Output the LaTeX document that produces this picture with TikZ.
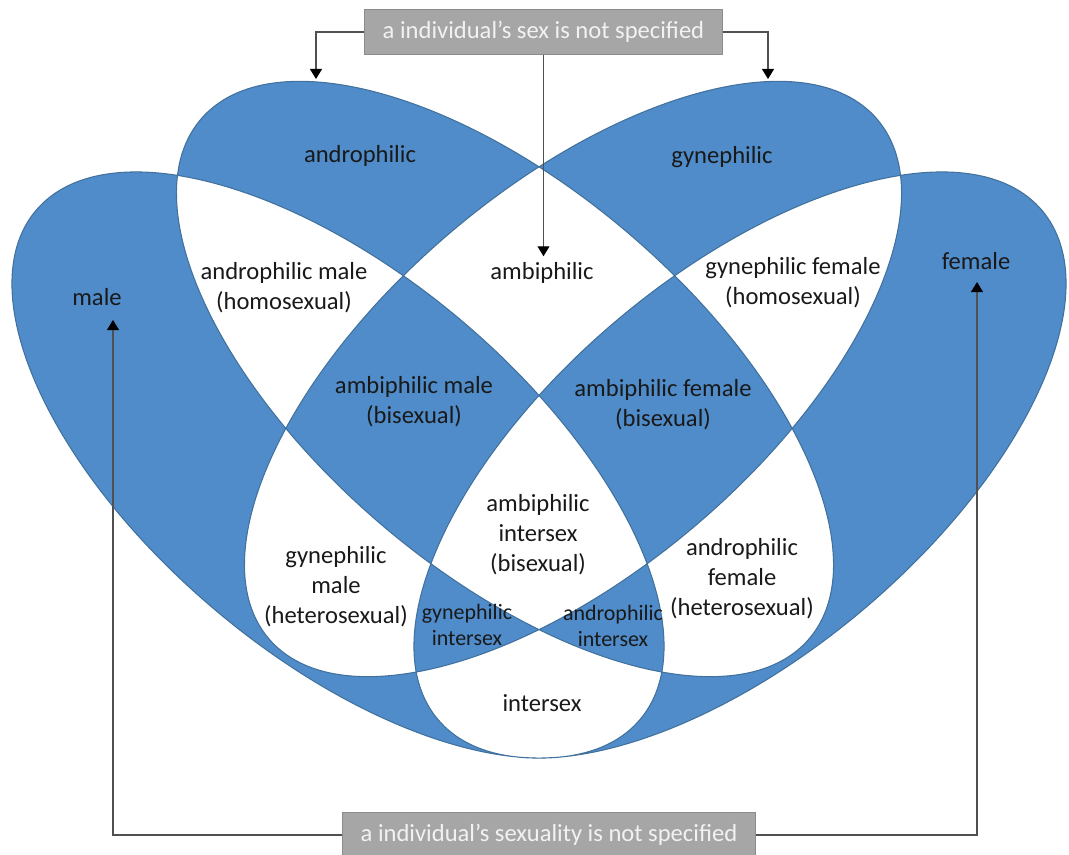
\documentclass[tikz,border=0pt]{standalone}
\usepackage{fontspec}
\setmainfont{Carlito}
\usetikzlibrary{arrows.meta}

\definecolor{vennblue}{RGB}{79,140,201}
\definecolor{vennedge}{RGB}{65,113,156}
\definecolor{boxgray}{RGB}{166,166,166}
\definecolor{boxedge}{RGB}{140,140,140}
\definecolor{linegray}{RGB}{80,80,80}

\begin{document}
\begin{tikzpicture}[x=0.02cm,y=-0.02cm,
    set label/.style={font=\fontsize{14}{17}\selectfont,align=center,text=black!90},
    small label/.style={font=\fontsize{12.5}{14.7}\selectfont,align=center,text=black!90},
    note box/.style={fill=boxgray,draw=boxedge,text=white!95!black,
      font=\fontsize{14}{17}\selectfont,minimum height=0.9cm,inner xsep=0.36cm},
    pointer/.style={draw=linegray,line width=0.7pt,-{Triangle[length=5.7pt,width=6.8pt,color=black]}}]

    \useasboundingbox (0,0) rectangle (1069,855);

    % Define the four sets
    \filldraw[fill=vennblue,draw=vennedge,line width=0.6pt,even odd rule]
        (338,465) circle [x radius=395,y radius=190,rotate=-40.1]  % male
        (740,465) circle [x radius=395,y radius=190,rotate=40.1]   % female
        (505,379) circle [x radius=400,y radius=191,rotate=-40.5]  % androphilic
        (573,379) circle [x radius=400,y radius=191,rotate=40.5];  % gynephilic

    % Region labels
    \node[set label] (andro) at (360,156) {androphilic};
    \node[set label] (gyne) at (722,157) {gynephilic};
    \node[set label] (male) at (97,297) {male};
    \node[set label] (female) at (976,261) {female};
    \node[set label] (andromale) at (284,288) {androphilic male\\(homosexual)};
    \node[set label] (ambi) at (542,273) {ambiphilic};
    \node[set label] (gynefemale) at (793,283) {gynephilic female\\(homosexual)};
    \node[set label] (ambimale) at (414,402) {ambiphilic male\\(bisexual)};
    \node[set label] (ambifemale) at (663,405) {ambiphilic female\\(bisexual)};
    \node[set label] (ambiinter) at (538,535) {ambiphilic\\intersex\\(bisexual)};
    \node[set label] (gynemale) at (336,587) {gynephilic\\male\\(heterosexual)};
    \node[set label] (androfemale) at (742,579) {androphilic\\female\\(heterosexual)};
    \node[small label] (gyneinter) at (467,625) {gynephilic\\intersex};
    \node[small label] (androinter) at (613,626) {androphilic\\intersex};
    \node[set label] (inter) at (542,703) {intersex};

    % Notes
    \node[note box] (sexbox) at (543.5,32) {a individual’s sex is not specified};
    \node[note box] (sexualitybox) at (549,835) {a individual’s sexuality is not specified};

    % Draw pointers
    \coordinate (andro tip) at (316,79);
    \coordinate (gyne tip) at (768,79);
    \coordinate (male tip) at (113,320);
    \coordinate (female tip) at (977,282);
    \draw[pointer] (sexbox.west) -| (andro tip);
    \draw[pointer] (sexbox.east) -| (gyne tip);
    \draw[pointer] (sexbox.south) -- (sexbox.south |- ambi.north);
    \draw[pointer] (sexualitybox.west) -| (male tip);
    \draw[pointer] (sexualitybox.east) -| (female tip);

\end{tikzpicture}
\end{document}
